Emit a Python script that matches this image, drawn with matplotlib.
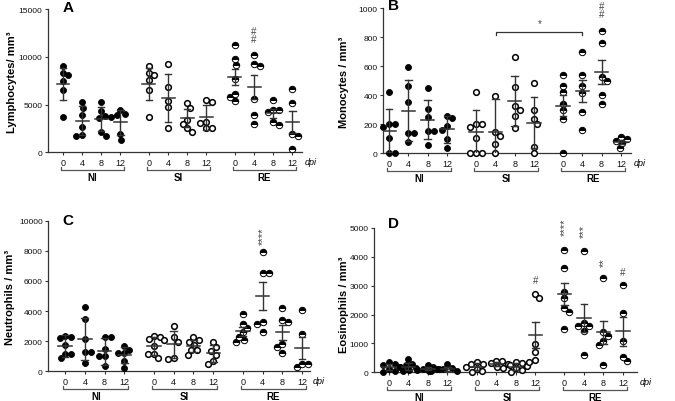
import numpy as np
import matplotlib
matplotlib.use("Agg")
import matplotlib.pyplot as plt

plt.rcParams['font.family'] = ['Liberation Sans', 'DejaVu Sans']

W, H = 675, 402

# x layout: 4 time points per infection group
positions = [0, 1, 2, 3, 4.5, 5.5, 6.5, 7.5, 9, 10, 11, 12]
time_labels = ['0', '4', '8', '12'] * 3
groups = ['NI', 'SI', 'RE']

# ---- data (cells / mm3), order NI0..NI12, SI0..SI12, RE0..RE12 ----
lymph = [
    [9020, 8320, 8110, 7510, 6570, 3740],
    [5250, 4650, 3950, 2620, 1740, 1820],
    [5250, 4300, 3780, 3600, 2100, 1740],
    [4440, 4020, 3950, 3700, 1920, 1320],
    [9020, 8320, 8110, 7550, 6570, 3740],
    [9260, 6850, 5420, 4790, 2520],
    [5170, 4640, 3390, 2970, 2520, 2160],
    [5520, 5250, 3210, 3040, 2520, 2520],
    [11290, 9790, 9190, 7690, 6120, 5770, 5350],
    [10210, 9300, 9020, 5590, 3950, 2970],
    [5490, 4470, 4470, 4200, 3150, 2900],
    [6640, 5170, 1950, 1680, 310],
]
lymph_mean = [7170, 3320, 3490, 3150, 7170, 5730, 3570, 3670, 7900, 6850, 4090, 3150]
lymph_err = [1720, 1500, 1250, 1300, 1720, 2500, 950, 1300, 840, 1250, 500, 1150]

mono = [
    [421, 202, 202, 183, 103, 0, 0],
    [593, 462, 352, 138, 138, 76],
    [448, 306, 248, 156, 156, 57],
    [259, 241, 190, 163, 99, 34],
    [421, 202, 202, 183, 103, 0, 0, 0],
    [397, 145, 118, 62, 0],
    [666, 455, 324, 299, 259, 174],
    [483, 299, 237, 202, 41, 0],
    [540, 466, 421, 340, 299, 237, 0],
    [701, 540, 462, 414, 283, 161],
    [846, 759, 524, 501, 402, 340],
    [110, 99, 85, 71, 34],
]
mono_mean = [156, 294, 232, 165, 150, 145, 363, 212, 329, 428, 563, 78]
mono_err = [150, 210, 136, 95, 150, 232, 172, 174, 70, 77, 82, 15]

neutro = [
    [2350, 2300, 2200, 1750, 1150, 1150, 880],
    [4290, 3470, 2140, 1260, 1260, 530],
    [2260, 2300, 1450, 1040, 1040, 370],
    [1700, 1430, 1210, 1210, 700, 220],
    [2350, 2300, 2150, 2050, 1700, 1150, 1150, 880],
    [3030, 2260, 1970, 820, 880],
    [2260, 2100, 1970, 1750, 1410, 1410, 1100],
    [1930, 1590, 1370, 1100, 700, 480],
    [3800, 3140, 2880, 2590, 2300, 2100, 1950],
    [7900, 6500, 6500, 3250, 3140, 2590],
    [4180, 3400, 3300, 1810, 1630, 1210],
    [4090, 2480, 480, 480, 260],
]
neutro_mean = [1680, 2150, 1330, 1080, 1700, 1800, 1700, 1190, 2650, 4980, 2590, 1570]
neutro_err = [700, 1400, 900, 550, 600, 900, 400, 550, 280, 920, 500, 740]

eos = [
    [350, 300, 250, 180, 120, 60, 20],
    [470, 300, 250, 200, 150, 80, 30],
    [250, 180, 130, 100, 80, 50],
    [280, 150, 120, 100, 60, 40],
    [350, 300, 280, 200, 130, 60, 10],
    [400, 380, 320, 280, 200, 150],
    [360, 330, 270, 220, 150, 90, 10],
    [2710, 2560, 980, 690, 430, 370],
    [4250, 3610, 2790, 2560, 2220, 2080, 1500],
    [4190, 1700, 1610, 1610, 1440, 610],
    [3270, 1410, 1270, 1100, 950, 250],
    [3020, 2050, 1100, 540, 380],
]
eos_mean = [175, 200, 130, 110, 190, 290, 200, 1290, 2720, 1870, 1390, 1420]
eos_err = [110, 130, 60, 70, 120, 80, 120, 450, 380, 480, 400, 500]

# significance marks: (group index, text, y value)
lymph_marks = [(9, '##', 12300)]
mono_marks = [(10, '##', 990)]
neutro_marks = [(9, '****', 9060)]
eos_marks = [(7, '#', 3210), (8, '****', 5050), (9, '***', 4930),
             (10, '**', 3840), (11, '#', 3460)]

INK = '#333333'

marker_styles = {
    'NI': dict(marker='o', ms=4.3, mfc='black', mec='black', mew=0.6),
    'SI': dict(marker='o', ms=4.1, mfc='white', mec='black', mew=1.1),
    'RE': dict(marker='o', ms=4.6, fillstyle='top', mfc='black',
               mfcalt='white', mec='black', mew=0.7),
}


def swarm_x(ax, x, values, diam=5.8, step=0.5):
    vals = np.asarray(values, dtype=float)
    pts = ax.transData.transform(np.column_stack([np.full(len(vals), x), vals]))
    order = np.argsort(-vals, kind='stable')
    placed = []
    out = np.zeros(len(vals))
    flip = 1
    for i in order:
        px, py = pts[i]
        k = 0
        dx = None
        while dx is None:
            cands = [0.0] if k == 0 else [flip * k * step, -flip * k * step]
            for c in cands:
                if all((px + c - qx) ** 2 + (py - qy) ** 2 >= diam ** 2 for qx, qy in placed):
                    dx = c
                    break
            k += 1
        if dx != 0:
            flip = -int(np.sign(dx))
        placed.append((px + dx, py))
        out[i] = ax.transData.inverted().transform((px + dx, py))[0]
    return out


def panel(rect, xlim, ylim, yticks, data, means, errs, marks, letter, ylabel,
          letter_xy, ylabel_xy, extra=None):
    l, t, r, b = rect
    ax = fig.add_axes([l / W, 1 - b / H, (r - l) / W, (b - t) / H])
    ax.set_xlim(*xlim)
    ax.set_ylim(*ylim)
    ax_h = b - t
    ax_w = r - l
    for s in ('top', 'right'):
        ax.spines[s].set_visible(False)
    for s in ('left', 'bottom'):
        ax.spines[s].set_color(INK)
        ax.spines[s].set_linewidth(0.9)
    ax.set_yticks(yticks)
    ax.set_yticklabels([str(v) for v in yticks])
    ax.set_xticks(positions)
    ax.set_xticklabels(time_labels)
    ax.tick_params(axis='y', length=2.5, width=0.8, color=INK, pad=1.5,
                   labelsize=6, labelcolor='#111111')
    ax.tick_params(axis='x', length=2.0, width=0.8, color=INK, pad=1.8,
                   labelsize=6.5, labelcolor='#111111')

    for gi, (x, vals, m, e) in enumerate(zip(positions, data, means, errs)):
        grp = groups[gi // 4]
        xs = swarm_x(ax, x, vals)
        ax.plot(xs, vals, linestyle='none', clip_on=False, zorder=3,
                **marker_styles[grp])
        lo, hi = max(m - e, 0), m + e
        ax.plot([x, x], [lo, hi], color=INK, lw=1.0, zorder=4)
        ax.plot([x - 0.34, x + 0.34], [m, m], color=INK, lw=1.1, zorder=4)
        ax.plot([x - 0.17, x + 0.17], [hi, hi], color=INK, lw=1.0, zorder=4)
        if m - e > 0:
            ax.plot([x - 0.17, x + 0.17], [lo, lo], color=INK, lw=1.0, zorder=4)

    for gi, txt, yv in marks:
        if '#' in txt:
            ax.text(positions[gi], yv, '\n'.join(txt), ha='center', va='center',
                    fontsize=7, linespacing=0.8, color='#444444', clip_on=False)
        else:
            ax.text(positions[gi], yv, txt, rotation=90, ha='center',
                    va='center', fontsize=8, color='#444444', clip_on=False)

    # group brackets under the axis
    yb = -17.5 / ax_h
    ytk = -15.0 / ax_h
    ylab = -24.5 / ax_h
    trans = ax.get_xaxis_transform()
    for k, g in enumerate(groups):
        x0 = positions[4 * k] - 0.1
        x1 = positions[4 * k + 3] + 0.2
        ax.plot([x0, x0, x1, x1], [ytk, yb, yb, ytk], transform=trans,
                color='#555555', lw=0.9, clip_on=False)
        ax.text((x0 + x1) / 2, ylab, g, transform=trans, ha='center',
                va='center', fontsize=7, fontweight='bold')

    ax.text(1 + 3 / ax_w, -9.0 / ax_h, 'dpi', transform=ax.transAxes,
            ha='left', va='center', fontsize=6.5, style='italic')

    fig.text(letter_xy[0] / W, 1 - letter_xy[1] / H, letter, fontsize=11,
             fontweight='bold', ha='left', va='baseline')
    fig.text(ylabel_xy[0] / W, 1 - ylabel_xy[1] / H, ylabel, rotation=90,
             ha='center', va='center', fontsize=8, fontweight='bold')
    if extra:
        extra(ax)
    return ax


def mono_bracket(ax):
    x0, x1, yv = 5.55, 10.0, 839
    ax.plot([x0, x0, x1, x1], [yv - 20, yv, yv, yv - 20], color=INK, lw=0.9)
    ax.text((x0 + x1) / 2, yv + 25, '*', ha='center', va='bottom',
            fontsize=7, color='#444444')


fig = plt.figure(figsize=(W / 100, H / 100), dpi=100)

panel((48, 10.3, 302, 153.3), (-0.785, 12.51), (0, 15000),
      [0, 5000, 10000, 15000], lymph, lymph_mean, lymph_err, lymph_marks,
      'A', 'Lymphocytes/ mm³', (63, 12.5), (12, 82))

panel((383, 9.3, 631, 154.3), (-0.31, 12.52), (0, 1000),
      [0, 200, 400, 600, 800, 1000], mono, mono_mean, mono_err, mono_marks,
      'B', 'Monocytes / mm³', (388, 10.5), (344, 82), extra=mono_bracket)

panel((48.3, 221.7, 310, 372.3), (-0.85, 12.4), (0, 10000),
      [0, 2000, 4000, 6000, 8000, 10000], neutro, neutro_mean, neutro_err,
      neutro_marks, 'C', 'Neutrophils / mm³', (62, 225), (10, 297))

panel((374.3, 229, 637, 373.3), (-0.75, 12.72), (0, 5000),
      [0, 1000, 2000, 3000, 4000, 5000], eos, eos_mean, eos_err, eos_marks,
      'D', 'Eosinophils / mm³', (388, 228), (344, 305))

fig.savefig('out.png', dpi=100)
